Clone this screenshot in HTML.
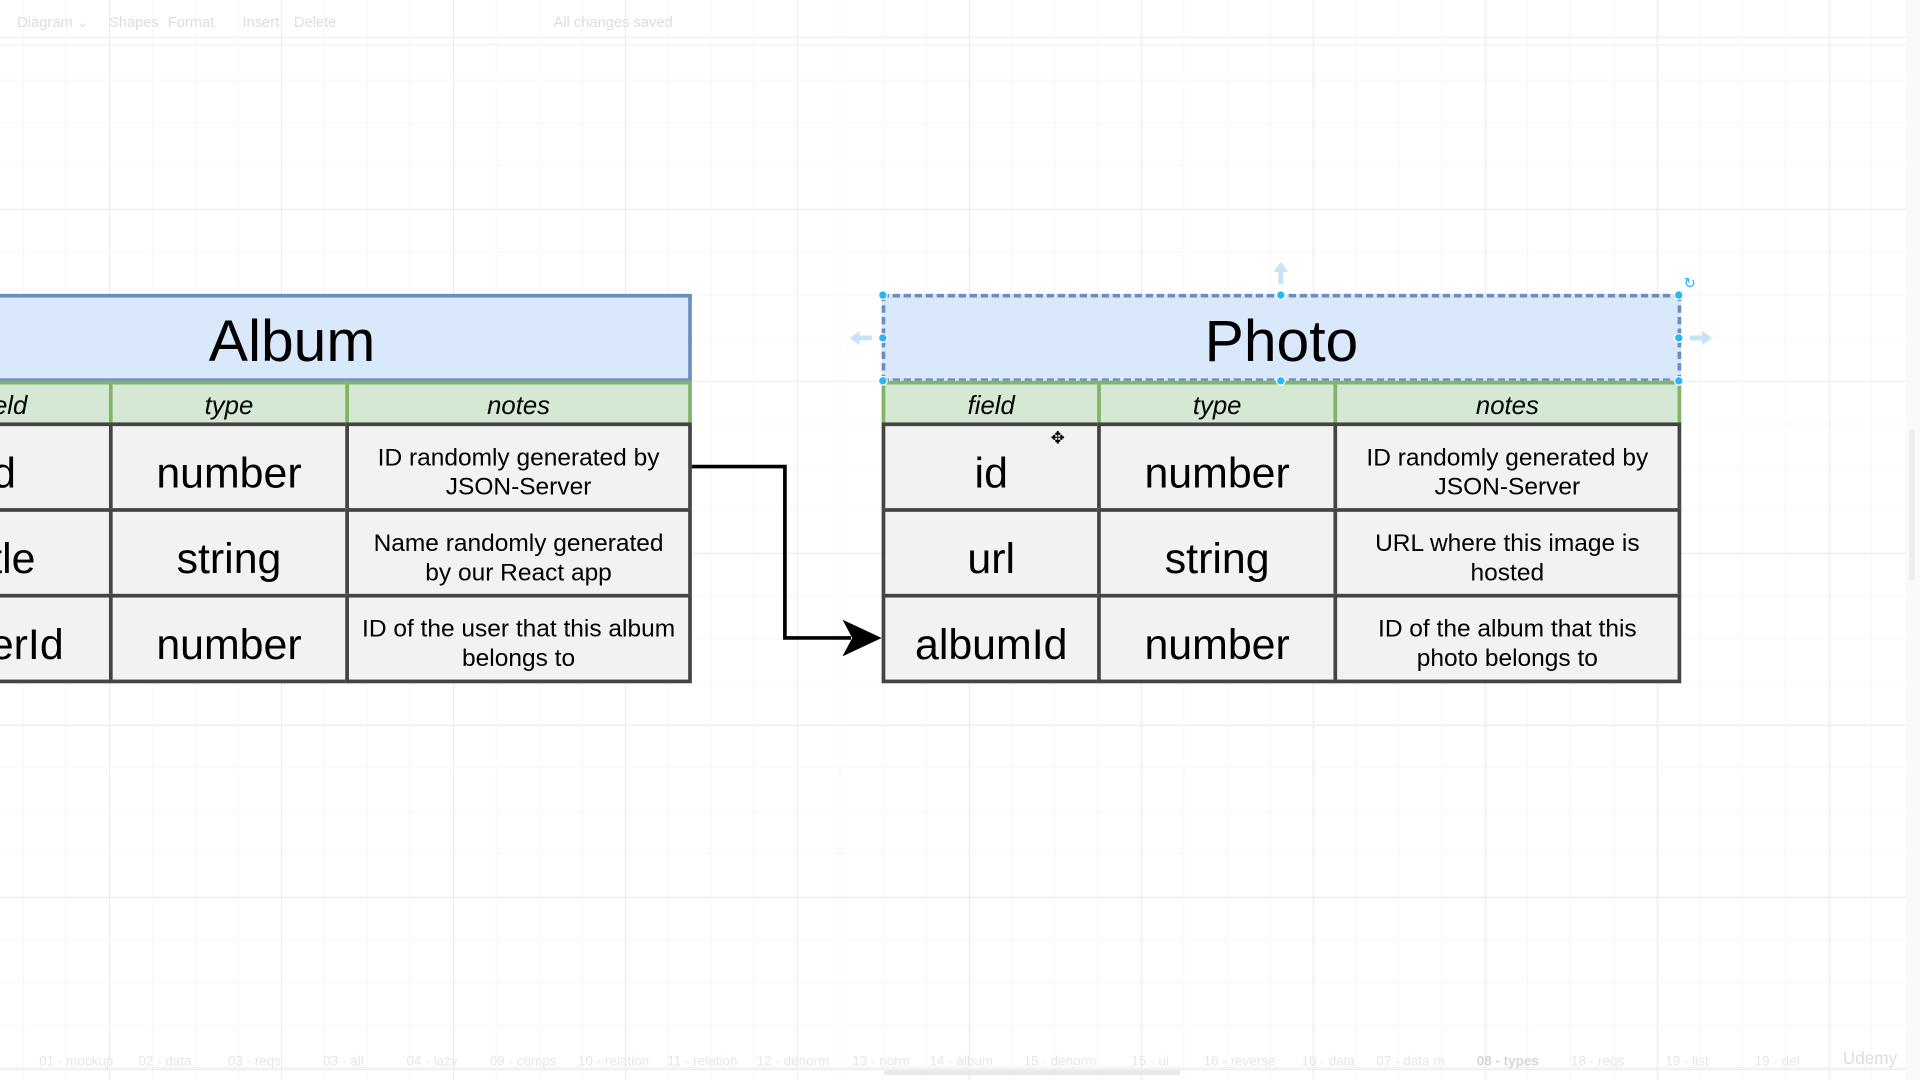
<!DOCTYPE html>
<html><head><meta charset="utf-8"><style>
html,body{margin:0;padding:0;width:1920px;height:1080px;overflow:hidden;background:#fff;font-family:"Liberation Sans",sans-serif}
#s{position:absolute;left:0;top:0;width:1568px;height:882px;transform:scale(1.22449);transform-origin:0 0;
background-image:linear-gradient(#ececec 1px,transparent 1px),linear-gradient(90deg,#ececec 1px,transparent 1px),linear-gradient(#f7f7f7 1px,transparent 1px),linear-gradient(90deg,#f7f7f7 1px,transparent 1px);
background-size:140.5px 140.5px,140.5px 140.5px,35.1px 35.1px,35.1px 35.1px;background-position:89px 30px,89px 30px,89px 30px,89px 30px}
.a{position:absolute;box-sizing:border-box}
.t{background:#dae8fc;border:3px solid #6c8ebf;font-size:48px;display:flex;align-items:center;justify-content:center;padding-top:7px}
.h{background:#d5e8d4;border:3px solid #82b366;font-size:21px;font-style:italic;display:flex;align-items:center;justify-content:center;padding-top:5px}
.c{background:#f2f2f2;border:3px solid #444;display:flex;align-items:center;justify-content:center;text-align:center;font-size:35px;padding-top:11px}
.n{font-size:20px;line-height:24px;padding-top:9px}
.tb{position:absolute;top:11px;font-size:12px;color:#ddd}
.bt{position:absolute;top:861px;font-size:11px;color:#e6e6e6}
</style></head><body><div id="s">
<div class="tb" style="left:14px">Diagram ⌄</div><div class="tb" style="left:89px">Shapes</div><div class="tb" style="left:137px">Format</div><div class="tb" style="left:198px">Insert</div><div class="tb" style="left:240px">Delete</div><div class="tb" style="left:452px">All changes saved</div>
<div class="a" style="left:0;top:36px;width:1568px;height:1px;background:#f0f0f0"></div>
<div class="a" style="left:1556px;top:0;width:12px;height:882px;background:#fafafa"></div>
<div class="a" style="left:1559px;top:350px;width:5px;height:124px;background:#eee;border-radius:3px"></div>

<!-- Album -->
<div class="a t" style="left:-90px;top:240px;width:655px;height:72px"><span style="margin-left:2px">Album</span></div>
<div class="a h" style="left:-86px;top:311px;width:178px;height:37px">field</div>
<div class="a h" style="left:89px;top:311px;width:196px;height:37px">type</div>
<div class="a h" style="left:282px;top:311px;width:283px;height:37px">notes</div>
<div class="a c" style="left:-86px;top:345px;width:178px;height:73px;justify-content:flex-end;padding-right:76px">id</div>
<div class="a c" style="left:89px;top:345px;width:196px;height:73px">number</div>
<div class="a c n" style="left:282px;top:345px;width:283px;height:73px">ID randomly generated by<br>JSON-Server</div>
<div class="a c" style="left:-86px;top:415px;width:178px;height:73px;justify-content:flex-end;padding-right:60px">title</div>
<div class="a c" style="left:89px;top:415px;width:196px;height:73px">string</div>
<div class="a c n" style="left:282px;top:415px;width:283px;height:73px">Name randomly generated<br>by our React app</div>
<div class="a c" style="left:-86px;top:485px;width:178px;height:73px;justify-content:flex-end;padding-right:37px">userId</div>
<div class="a c" style="left:89px;top:485px;width:196px;height:73px">number</div>
<div class="a c n" style="left:282px;top:485px;width:283px;height:73px">ID of the user that this album<br>belongs to</div>

<!-- Photo -->
<div class="a t" style="left:720px;top:240px;width:653px;height:72px;border-style:dashed">Photo</div>
<div class="a h" style="left:720px;top:311px;width:179px;height:37px">field</div>
<div class="a h" style="left:896px;top:311px;width:196px;height:37px">type</div>
<div class="a h" style="left:1089px;top:311px;width:284px;height:37px">notes</div>
<div class="a c" style="left:720px;top:345px;width:179px;height:73px">id</div>
<div class="a c" style="left:896px;top:345px;width:196px;height:73px">number</div>
<div class="a c n" style="left:1089px;top:345px;width:284px;height:73px">ID randomly generated by<br>JSON-Server</div>
<div class="a c" style="left:720px;top:415px;width:179px;height:73px">url</div>
<div class="a c" style="left:896px;top:415px;width:196px;height:73px">string</div>
<div class="a c n" style="left:1089px;top:415px;width:284px;height:73px">URL where this image is<br>hosted</div>
<div class="a c" style="left:720px;top:485px;width:179px;height:73px">albumId</div>
<div class="a c" style="left:896px;top:485px;width:196px;height:73px">number</div>
<div class="a c n" style="left:1089px;top:485px;width:284px;height:73px">ID of the album that this<br>photo belongs to</div>

<svg class="a" style="left:0;top:0" width="1568" height="882">
<polyline points="565,381 641,381 641,521 695,521" fill="none" stroke="#000" stroke-width="3"/>
<polygon points="720,521 688,506 696,521 688,536" fill="#000"/>
<g fill="#29b6f2" stroke="#fff" stroke-width="1">
<circle cx="721" cy="241" r="3.5"/><circle cx="1046" cy="241" r="3.5"/><circle cx="1371" cy="241" r="3.5"/>
<circle cx="721" cy="276" r="3.5"/><circle cx="1371" cy="276" r="3.5"/>
<circle cx="721" cy="311" r="3.5"/><circle cx="1046" cy="311" r="3.5"/><circle cx="1371" cy="311" r="3.5"/></g>
<g fill="#c5e4f7"><polygon points="1046,214 1040,222 1044,222 1044,232 1048,232 1048,222 1052,222"/>
<polygon points="694,276 702,270 702,274 712,274 712,278 702,278 702,282"/>
<polygon points="1398,276 1390,270 1390,274 1380,274 1380,278 1390,278 1390,282"/></g>
<text x="1375" y="235" font-size="12" fill="#29b6f2">↻</text>
<text x="858" y="362" font-size="14">✥</text>
<line x1="0" y1="872" x2="1556" y2="872" stroke="#f2f2f2"/>
<rect x="722" y="874" width="242" height="4" rx="2" fill="#e8e8e8"/>
</svg>
<div class="bt" style="left:32px">01 - mockup</div><div class="bt" style="left:113px">02 - data</div><div class="bt" style="left:186px">03 - reqs</div><div class="bt" style="left:264px">03 - all</div><div class="bt" style="left:332px">04 - lazy</div><div class="bt" style="left:400px">09 - comps</div><div class="bt" style="left:472px">10 - relation</div><div class="bt" style="left:545px">11 - relation</div><div class="bt" style="left:618px">12 - denorm</div><div class="bt" style="left:696px">13 - norm</div><div class="bt" style="left:759px">14 - album</div><div class="bt" style="left:836px">15 - denorm</div><div class="bt" style="left:924px">15 - ui</div><div class="bt" style="left:983px">16 - reverse</div><div class="bt" style="left:1063px">10 - data</div><div class="bt" style="left:1124px">07 - data m</div><div class="bt" style="left:1206px;color:#d6d6d6;font-weight:bold">08 - types</div><div class="bt" style="left:1283px">18 - reqs</div><div class="bt" style="left:1360px">19 - list</div><div class="bt" style="left:1433px">19 - del</div><div class="bt" style="left:1505px;font-size:14px;top:856px;color:#ddd">Udemy</div>
</div></body></html>
